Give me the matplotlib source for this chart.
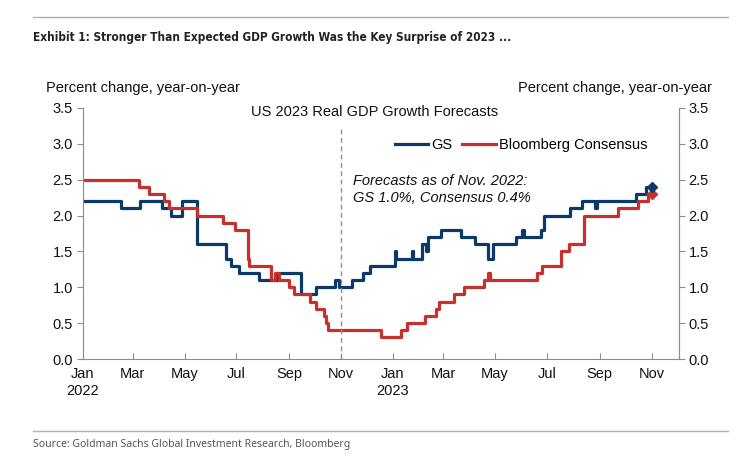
import matplotlib
matplotlib.use("Agg")
import matplotlib.pyplot as plt
import matplotlib.dates as mdates
from matplotlib.lines import Line2D
import pandas as pd

plt.rcParams["font.family"] = ["Liberation Sans", "DejaVu Sans"]

# GS forecast of 2023 real GDP growth (step changes)
gs_dates = [
    "2022-01-01", "2022-02-15", "2022-03-09", "2022-04-04", "2022-04-15", "2022-04-28",
    "2022-05-15", "2022-06-19", "2022-06-25", "2022-07-04", "2022-07-27", "2022-08-18",
    "2022-09-15", "2022-10-03", "2022-10-25", "2022-10-29", "2022-11-14", "2022-11-27",
    "2022-12-05", "2023-01-03", "2023-01-05", "2023-01-23", "2023-01-25", "2023-02-04",
    "2023-02-09", "2023-02-11", "2023-02-27", "2023-03-22", "2023-04-07", "2023-04-23",
    "2023-04-29", "2023-05-26", "2023-06-02", "2023-06-04", "2023-06-24", "2023-06-27",
    "2023-07-28", "2023-08-11", "2023-08-27", "2023-08-29", "2023-10-14", "2023-10-25",
    "2023-11-02",
]
gs_values = [
    2.2, 2.1, 2.2, 2.1, 2.0, 2.2,
    1.6, 1.4, 1.3, 1.2, 1.1, 1.2,
    0.9, 1.0, 1.1, 1.0, 1.1, 1.2,
    1.3, 1.5, 1.4, 1.5, 1.4, 1.6,
    1.5, 1.7, 1.8, 1.7, 1.6, 1.4,
    1.6, 1.7, 1.8, 1.7, 1.8, 2.0,
    2.1, 2.2, 2.1, 2.2, 2.3, 2.4,
    2.4,
]

# Bloomberg consensus forecast of 2023 real GDP growth
bbg_dates = [
    "2022-01-01", "2022-03-08", "2022-03-20", "2022-04-07", "2022-04-13", "2022-05-15",
    "2022-06-15", "2022-06-29", "2022-07-14", "2022-07-16", "2022-08-11", "2022-08-15",
    "2022-08-20", "2022-09-01", "2022-09-07", "2022-09-25", "2022-10-02", "2022-10-12",
    "2022-10-14", "2022-10-16", "2022-12-18", "2023-01-10", "2023-01-18", "2023-02-08",
    "2023-02-20", "2023-02-24", "2023-03-14", "2023-03-26", "2023-04-18", "2023-04-23",
    "2023-04-25", "2023-06-19", "2023-06-25", "2023-07-18", "2023-07-27", "2023-08-14",
    "2023-09-22", "2023-10-16", "2023-10-28", "2023-11-02",
]
bbg_values = [
    2.5, 2.4, 2.3, 2.2, 2.1, 2.0,
    1.9, 1.8, 1.4, 1.3, 1.1, 1.2,
    1.1, 1.0, 0.9, 0.8, 0.7, 0.6,
    0.5, 0.4, 0.3, 0.4, 0.5, 0.6,
    0.7, 0.8, 0.9, 1.0, 1.1, 1.2,
    1.1, 1.2, 1.3, 1.5, 1.6, 2.0,
    2.1, 2.2, 2.3, 2.3,
]

tick_dates = pd.date_range("2022-01-01", "2023-11-01", freq="2MS")
tick_labels = ["Jan\n2022", "Mar", "May", "Jul", "Sep", "Nov",
               "Jan\n2023", "Mar", "May", "Jul", "Sep", "Nov"]
y_ticks = [0.0, 0.5, 1.0, 1.5, 2.0, 2.5, 3.0, 3.5]

GS_COLOR = "#0b3a6a"
BBG_COLOR = "#c8302e"
AXIS_GRAY = "#8c8c8c"
FS = 10.5

gs_x = pd.to_datetime(gs_dates)
bbg_x = pd.to_datetime(bbg_dates)

fig = plt.figure(figsize=(7.37, 4.57), dpi=100)
ax = fig.add_axes([0.112, 0.2144, 0.809, 0.5495])

ax.step(gs_x, gs_values, where="post", color=GS_COLOR, lw=2.3)
ax.step(bbg_x, bbg_values, where="post", color=BBG_COLOR, lw=2.3)
ax.plot(bbg_x[-1:], bbg_values[-1:], marker="D", ms=5, color=BBG_COLOR, ls="none")
ax.plot(gs_x[-1:], gs_values[-1:], marker="D", ms=5, color=GS_COLOR, ls="none")

ax.vlines(pd.Timestamp("2022-11-01"), 0, 3.2, colors="#909090", lw=1,
          linestyles=(0, (3.5, 2.5)))

ax.set_xlim(pd.Timestamp("2022-01-01"), pd.Timestamp("2023-12-03"))
ax.set_ylim(0, 3.5)
ax.set_xticks(tick_dates)
ax.set_xticklabels(tick_labels, fontsize=FS, color="#111111")
ax.set_yticks(y_ticks)
ax.set_yticklabels([f"{v:.1f}" for v in y_ticks], fontsize=FS, color="#111111")
ax.tick_params(axis="x", direction="in", length=4, color=AXIS_GRAY, pad=6)
ax.tick_params(axis="y", direction="out", length=4, color=AXIS_GRAY, pad=3)

for side in ["left", "right", "bottom"]:
    ax.spines[side].set_color(AXIS_GRAY)
ax.spines["top"].set_visible(False)

ax2 = ax.twinx()
ax2.set_ylim(0, 3.5)
ax2.set_yticks(y_ticks)
ax2.set_yticklabels([f"{v:.1f}" for v in y_ticks], fontsize=FS, color="#111111")
ax2.tick_params(axis="y", direction="out", length=4, color=AXIS_GRAY, pad=3)
ax2.spines["top"].set_visible(False)
ax2.spines["right"].set_color(AXIS_GRAY)
ax2.spines["left"].set_visible(False)
ax2.spines["bottom"].set_visible(False)

# legend
handles = [Line2D([], [], color=GS_COLOR, lw=2.3),
           Line2D([], [], color=BBG_COLOR, lw=2.3)]
fig.legend(handles, ["GS", "Bloomberg Consensus"], loc="center",
           bbox_to_anchor=(0.707, 0.683), ncol=2, frameon=False, fontsize=FS,
           handlelength=2.3, handletextpad=0.2, columnspacing=0.7)

ax.text(0.4535, 0.735, "Forecasts as of Nov. 2022:\nGS 1.0%, Consensus 0.4%",
        transform=ax.transAxes, fontsize=FS, style="italic", va="top", ha="left",
        color="#111111", linespacing=1.2)

fig.text(0.508, 1 - 112 / 457, "US 2023 Real GDP Growth Forecasts", fontsize=FS,
         ha="center", va="center", color="#111111")
fig.text(46 / 737, 1 - 88 / 457, "Percent change, year-on-year", fontsize=FS,
         ha="left", va="center", color="#111111")
fig.text(712 / 737, 1 - 88 / 457, "Percent change, year-on-year", fontsize=FS,
         ha="right", va="center", color="#111111")

# header / footer
fig.add_artist(Line2D([33 / 737, 728 / 737], [1 - 17 / 457] * 2,
                      transform=fig.transFigure, color="#b0b0b0", lw=1))
fig.add_artist(Line2D([33 / 737, 728 / 737], [1 - 431 / 457] * 2,
                      transform=fig.transFigure, color="#b0b0b0", lw=1))
fig.text(33 / 737, 1 - 37 / 457,
         "Exhibit 1: Stronger Than Expected GDP Growth Was the Key Surprise of 2023 ...",
         fontsize=8.5, fontweight="bold", fontstretch="condensed", ha="left",
         va="center", color="#222222", family="DejaVu Sans")
fig.text(33 / 737, 1 - 445 / 457,
         "Source: Goldman Sachs Global Investment Research, Bloomberg",
         fontsize=7.5, fontstretch="extra-condensed", ha="left", va="center",
         color="#555555", family="Noto Sans")

fig.savefig("out.png", dpi=100)
